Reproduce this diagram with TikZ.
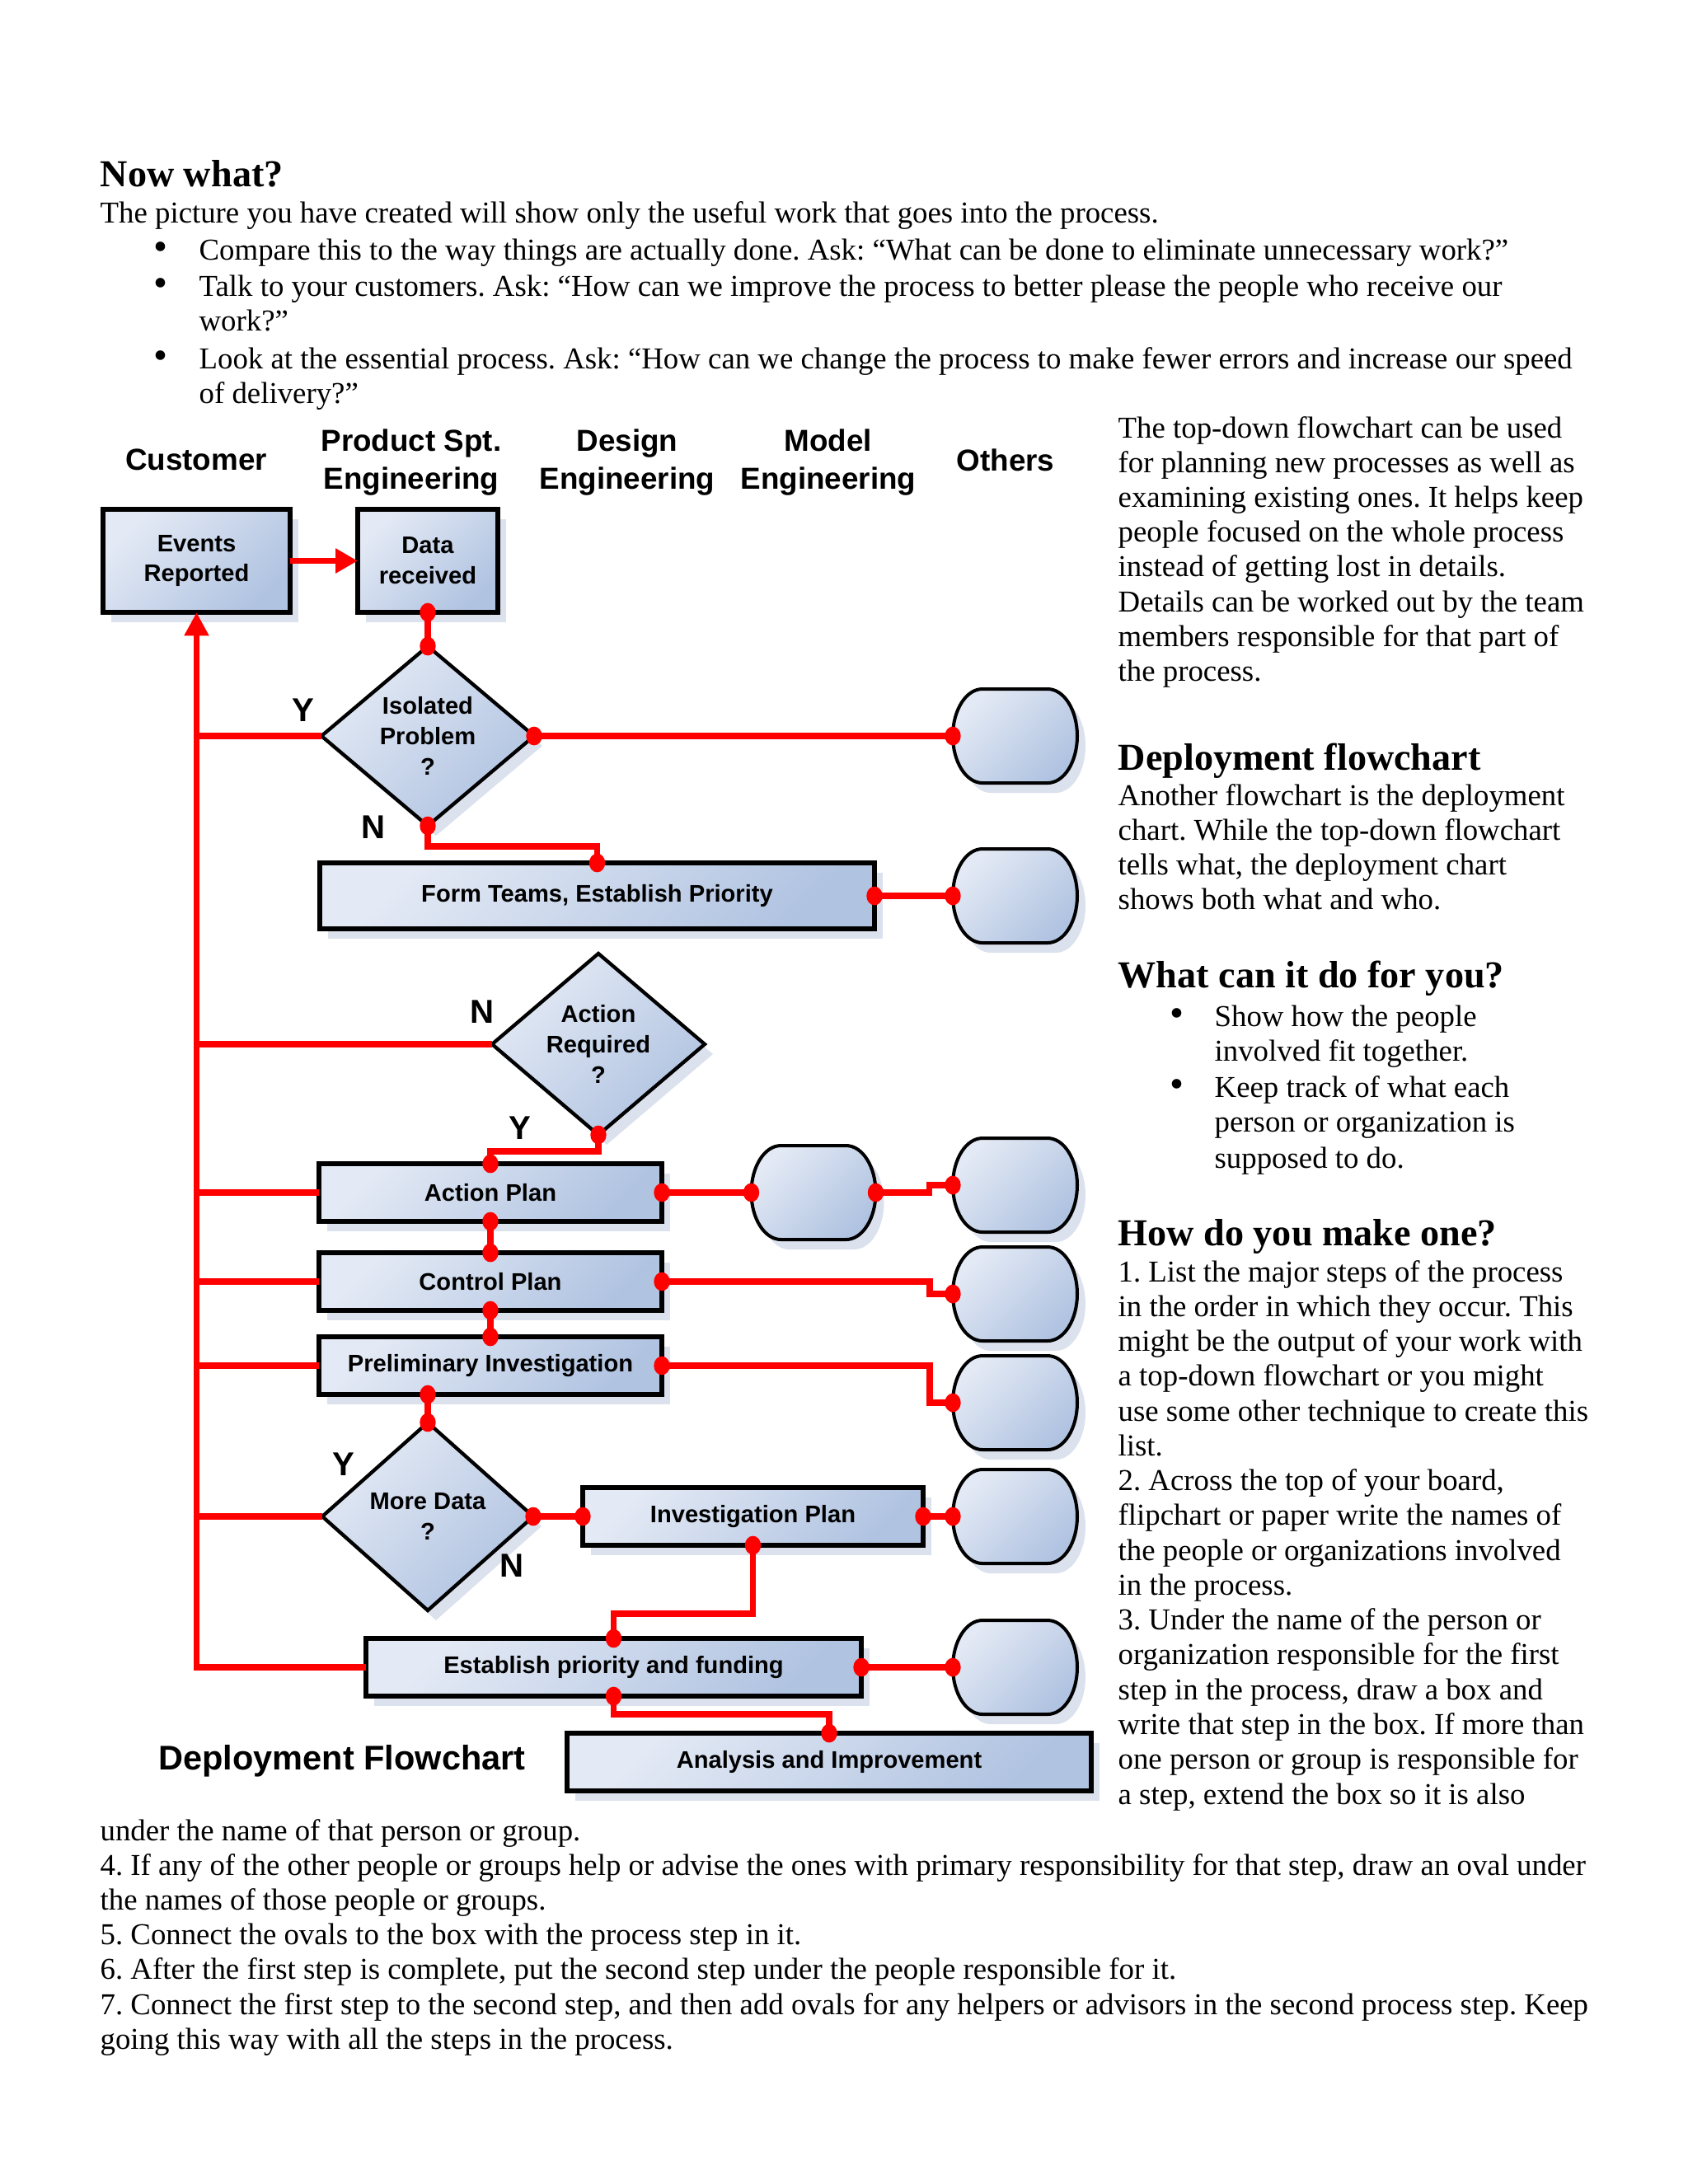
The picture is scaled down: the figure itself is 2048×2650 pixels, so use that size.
\documentclass[tikz,border=0pt]{standalone}
\usepackage{fontspec}
\setmainfont{Liberation Serif}
\setsansfont{Liberation Sans}
\usetikzlibrary{shapes.geometric,arrows.meta,calc}
\definecolor{boxlight}{RGB}{228,234,245}
\definecolor{boxdark}{RGB}{176,195,225}
\definecolor{shadowc}{RGB}{219,225,237}
\def\U{0.29883pt}
\newcommand\dt[1]{\fill[red] (#1) ellipse[x radius=2.9pt, y radius=3.4pt];}
\newcommand\othoval[3]{%
  \node[ovalanchor] (#1) at (#2,#3) {};
  \path[ovalshape] ($(#1.north west)+(36,0)$) -- ($(#1.north east)+(-36,0)$)
     arc[start angle=90,end angle=-90,x radius=36*\U,y radius=57*\U]
     -- ($(#1.south west)+(36,0)$)
     arc[start angle=270,end angle=90,x radius=36*\U,y radius=57*\U] -- cycle;}
\begin{document}
\frenchspacing
\begin{tikzpicture}[x=0.29883pt,y=-0.29883pt,
  shade/.style={top color=boxlight, bottom color=boxdark, shading angle=45,
    preaction={fill=shadowc, transform canvas={shift={(10*\U,-12*\U)}}}},
  box/.style={rectangle, draw=black, line width=1.7pt, outer sep=0pt, inner sep=0pt, shade,
    font=\sffamily\bfseries\fontsize{8.7}{11}\selectfont, align=center},
  dia/.style={diamond, draw=black, line width=1.3pt, outer sep=0pt, inner sep=0pt, shade},
  dtext/.style={font=\sffamily\bfseries\fontsize{8.7}{11}\selectfont, align=center, inner sep=0pt},
  ovalanchor/.style={rectangle, minimum width=151*\U, minimum height=114*\U, inner sep=0pt, outer sep=0pt},
  ovalshape/.style={draw=black, line width=1.2pt, shade},
  lane/.style={font=\sffamily\bfseries\fontsize{11}{14}\selectfont, align=center, inner sep=0pt},
  yn/.style={font=\sffamily\bfseries\fontsize{12}{14}\selectfont, inner sep=0pt},
  link/.style={draw=red, line width=2.2pt},
  body/.style={font=\frenchspacing\fontsize{11}{12.6}\selectfont, inner sep=0pt, anchor=base west},
  bul/.style={font=\fontsize{14.5}{12.6}\selectfont, inner sep=0pt, anchor=base west, text height=1.1ex, text depth=0pt},
  head/.style={font=\bfseries\fontsize{13.8}{16}\selectfont, inner sep=0pt, anchor=base west}]
\useasboundingbox (0,0) rectangle (2048,2650);

% ---------- top text ----------
\node[head] (h0) at (121,226) {Now what?};
\node[body] (t0) at (121,270) {The picture you have created will show only the useful work that goes into the process.};
\node[bul] (b1) at (186,315) {•};
\node[body] (t1) at (241,315) {Compare this to the way things are actually done. Ask: “What can be done to eliminate unnecessary work?”};
\node[bul] (b2) at (186,359) {•};
\node[body] (t2) at (241,359) {Talk to your customers. Ask: “How can we improve the process to better please the people who receive our};
\node[body] (t3) at (241,401) {work?”};
\node[bul] (b3) at (186,447) {•};
\node[body] (t4) at (241,447) {Look at the essential process. Ask: “How can we change the process to make fewer errors and increase our speed};
\node[body] (t5) at (241,489) {of delivery?”};

% ---------- right column ----------
\foreach \t [count=\i from 0] in {{The top-down flowchart can be used},{for planning new processes as well as},
  {examining existing ones. It helps keep},{people focused on the whole process},
  {instead of getting lost in details.},{Details can be worked out by the team},
  {members responsible for that part of},{the process.}}
  \node[body] (ra\i) at (1356,{531+42.2*\i}) {\t};
\node[head] (h1) at (1356,934) {Deployment flowchart};
\foreach \t [count=\i from 0] in {{Another flowchart is the deployment},{chart. While the top-down flowchart},
  {tells what, the deployment chart},{shows both what and who.}}
  \node[body] (rb\i) at (1356,{977+42.3*\i}) {\t};
\node[head] (h2) at (1356,1198) {What can it do for you?};
\node[bul] (rc0) at (1419,1245) {•};
\node[body] (rc1) at (1473,1245) {Show how the people};
\node[body] (rc2) at (1473,1287) {involved fit together.};
\node[bul] (rc3) at (1419,1331) {•};
\node[body] (rc4) at (1473,1331) {Keep track of what each};
\node[body] (rc5) at (1473,1373) {person or organization is};
\node[body] (rc6) at (1473,1417) {supposed to do.};
\node[head] (h3) at (1356,1511) {How do you make one?};
\foreach \t [count=\i from 0] in {{1. List the major steps of the process},{in the order in which they occur. This},
  {might be the output of your work with},{a top-down flowchart or you might},
  {use some other technique to create this},{list.},
  {2. Across the top of your board,},{flipchart or paper write the names of},
  {the people or organizations involved},{in the process.},
  {3. Under the name of the person or},{organization responsible for the first},
  {step in the process, draw a box and},{write that step in the box. If more than},
  {one person or group is responsible for},{a step, extend the box so it is also}}
  \node[body] (rd\i) at (1356,{1555+42.27*\i}) {\t};
\foreach \t [count=\i from 0] in {{under the name of that person or group.},
  {4. If any of the other people or groups help or advise the ones with primary responsibility for that step, draw an oval under},
  {the names of those people or groups.},
  {5. Connect the ovals to the box with the process step in it.},
  {6. After the first step is complete, put the second step under the people responsible for it.},
  {7. Connect the first step to the second step, and then add ovals for any helpers or advisors in the second process step. Keep},
  {going this way with all the steps in the process.}}
  \node[body] (re\i) at (121,{2233+42.2*\i}) {\t};

% ---------- lane headers ----------
\node[lane] (L1) at (238,558) {Customer};
\node[lane] (L2) at (499,561) {Product Spt.\\Engineering};
\node[lane] (L3) at (761,561) {Design\\Engineering};
\node[lane] (L4) at (1005,561) {Model\\Engineering};
\node[lane] (L5) at (1220,558) {Others};

% ---------- boxes ----------
\node[box, minimum width=227*\U, minimum height=125*\U] (ev) at (238.5,680.5) {Events\\Reported};
\node[box, minimum width=170*\U, minimum height=125*\U] (dr) at (519,680.5) {Data\\received};
\node[box, minimum width=673*\U, minimum height=80*\U] (ft) at (724.5,1087) {Form Teams, Establish Priority};
\node[box, minimum width=416*\U, minimum height=70*\U] (ap) at (595,1447) {Action Plan};
\node[box, minimum width=416*\U, minimum height=70*\U] (cp) at (595,1555) {Control Plan};
\node[box, minimum width=416*\U, minimum height=70*\U] (pi) at (595,1657) {Preliminary Investigation};
\node[box, minimum width=413*\U, minimum height=70*\U] (ip) at (913.5,1840) {Investigation Plan};
\node[box, minimum width=601*\U, minimum height=70*\U] (ep) at (744.5,2023) {Establish priority and funding};
\node[box, minimum width=636*\U, minimum height=70*\U] (ai) at (1006,2138) {Analysis and Improvement};
\node[lane, font=\sffamily\bfseries\fontsize{12.4}{14}\selectfont] (dfl) at (415,2137) {Deployment Flowchart};

% ---------- decisions ----------
\node[dia, minimum width=258*\U, minimum height=218*\U] (d1) at (519,893) {};
\node[dtext] (d1t) at (d1) {Isolated\\Problem\\?};
\node[dia, minimum width=258*\U, minimum height=220*\U] (d2) at (726,1267) {};
\node[dtext] (d2t) at (d2) {Action\\Required\\?};
\node[dia, minimum width=256*\U, minimum height=228*\U] (d3) at (519,1840) {};
\node[dtext] (d3t) at (d3) {More Data\\?};

% ---------- ovals ----------
\othoval{o1}{1231.5}{893}
\othoval{o2}{1231.5}{1087}
\othoval{om}{987}{1447}
\othoval{o3}{1231.5}{1438}
\othoval{o4}{1231.5}{1570}
\othoval{o5}{1231.5}{1702}
\othoval{o6}{1231.5}{1840}
\othoval{o7}{1231.5}{2023}

% ---------- Y / N labels ----------
\node[yn] (y1) at (368,862) {Y};
\node[yn] (n1) at (453,1004) {N};
\node[yn] (n2) at (585,1228) {N};
\node[yn] (y2) at (631,1369) {Y};
\node[yn] (y3) at (417,1777) {Y};
\node[yn] (n3) at (621,1900) {N};

% ---------- connectors ----------
\draw[link, -{Triangle[length=8pt,width=8.5pt]}] (ev.east) -- (dr.west);
\draw[link, -{Triangle[length=8.5pt,width=8.5pt]}] (ep.west) -| (ev.south);
\draw[link] (d1.west) -- (d1.west -| ev.south);
\draw[link] (d2.west) -- (d2.west -| ev.south);
\draw[link] (ap.west -| ev.south) -- (ap.west);
\draw[link] (cp.west -| ev.south) -- (cp.west);
\draw[link] (pi.west -| ev.south) -- (pi.west);
\draw[link] (d3.west) -- (d3.west -| ev.south);
\draw[link] (dr.south) -- (d1.north);
\draw[link] (d1.east) -- (o1.west);
\draw[link] (d1.south) -- ++(0,25) -| (ft.north);
\draw[link] (ft.east) -- (o2.west);
\draw[link] (d2.south) -- ++(0,20) -| (ap.north);
\draw[link] (ap.east) -- (om.west);
\draw[link] (om.east) -- ++(65,0) |- (o3.west);
\draw[link] (ap.south) -- (cp.north);
\draw[link] (cp.east) -- ++(325,0) |- (o4.west);
\draw[link] (cp.south) -- (pi.north);
\draw[link] (pi.east) -- ++(325,0) |- (o5.west);
\draw[link] (d3.north |- pi.south) -- (d3.north);
\draw[link] (d3.east) -- (ip.west);
\draw[link] (ip.east) -- (o6.west);
\draw[link] (ip.south) -- ++(0,83) -| (ep.north);
\draw[link] (ep.east) -- (o7.west);
\draw[link] (ep.south) -- ++(0,22) -| (ai.north);

% ---------- dots ----------
\dt{dr.south}\dt{d1.north}\dt{d1.east}\dt{o1.west}\dt{d1.south}\dt{ft.north}
\dt{ft.east}\dt{o2.west}\dt{d2.south}\dt{ap.north}\dt{ap.east}\dt{om.west}
\dt{om.east}\dt{o3.west}\dt{ap.south}\dt{cp.north}\dt{cp.east}\dt{o4.west}
\dt{cp.south}\dt{pi.north}\dt{pi.east}\dt{o5.west}\dt{d3.north |- pi.south}\dt{d3.north}
\dt{d3.east}\dt{ip.west}\dt{ip.east}\dt{o6.west}\dt{ip.south}\dt{ep.north}
\dt{ep.east}\dt{o7.west}\dt{ep.south}\dt{ai.north}
\end{tikzpicture}
\end{document}
